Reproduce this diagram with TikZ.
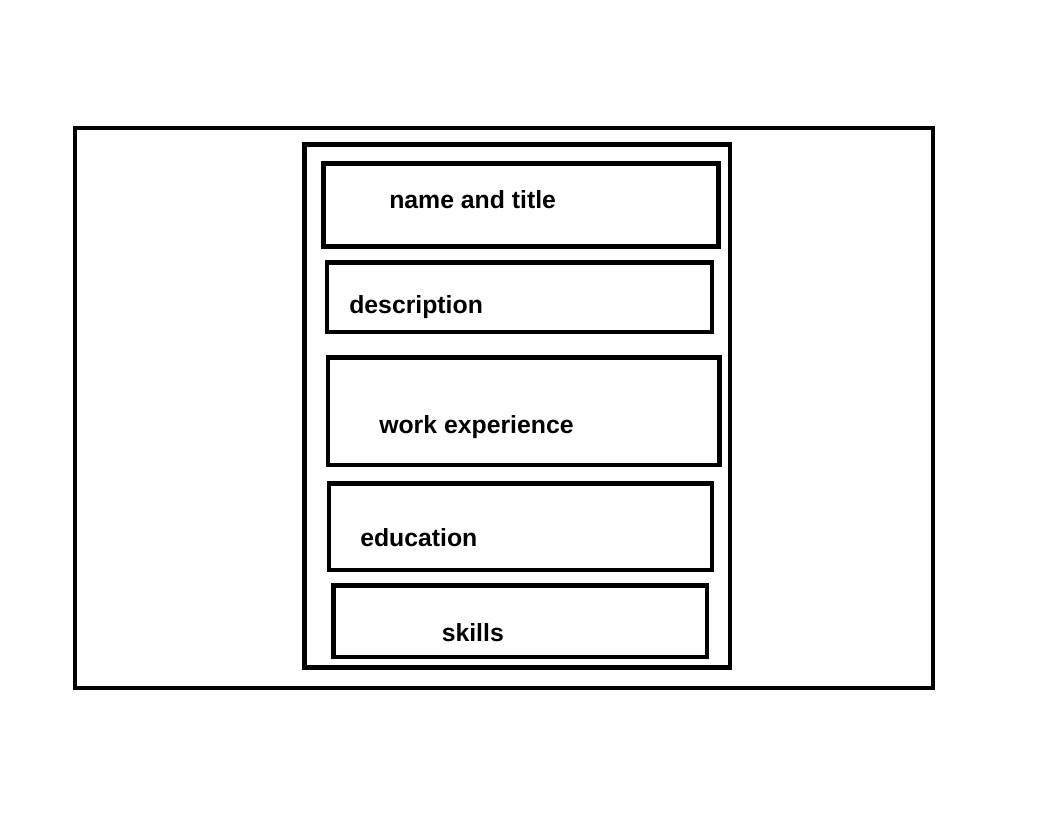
\documentclass[tikz,border=0pt]{standalone}
\usepackage{fontspec}
\setmainfont{Liberation Sans}
\usetikzlibrary{fit}
\begin{document}
\begin{tikzpicture}[x=0.75pt,y=-0.75pt,
  frame/.style={draw=black,line width=3.6pt,inner sep=0pt,rectangle},
  lbl/.style={anchor=base west,inner sep=0pt,font=\fontsize{18.6}{22}\selectfont\bfseries}]
  \useasboundingbox (0,0) rectangle (1047,815);
  % page and resume column
  \node[frame,fit={(75,128) (933,688)}] (page) {};
  \node[frame,fit={(304.5,144.5) (730,667.5)}] (column) {};
  % sections
  \node[frame,fit={(323.5,163.5) (718.5,246.5)}] (nameBox) {};
  \node[frame,fit={(327,262.5) (712,332)}] (descBox) {};
  \node[frame,fit={(328,357.5) (719.5,465)}] (workBox) {};
  \node[frame,fit={(329,483.5) (712,570)}] (eduBox) {};
  \node[frame,fit={(333.5,585.5) (707,657)}] (skillBox) {};
  % section titles
  \node[lbl] (nameLbl) at (389,208) {name and title};
  \node[lbl] (descLbl) at (349,313.5) {description};
  \node[lbl] (workLbl) at (379,433.5) {work experience};
  \node[lbl] (eduLbl) at (360,546) {education};
  \node[lbl] (skillLbl) at (441.5,641) {skills};
\end{tikzpicture}
\end{document}
